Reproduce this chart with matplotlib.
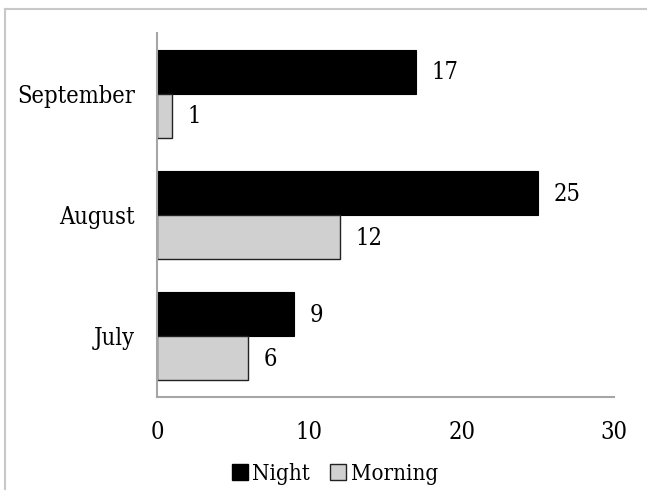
import matplotlib
matplotlib.use("Agg")
import matplotlib.pyplot as plt
from matplotlib.patches import Patch
from matplotlib.lines import Line2D
from matplotlib import font_manager
import numpy as np

months = ["July", "August", "September"]
night = [9, 25, 17]
morning = [6, 12, 1]
xticks = [0, 10, 20, 30]

names = {f.name for f in font_manager.fontManager.ttflist}
fam = 'DejaVu Serif Condensed' if 'DejaVu Serif Condensed' in names else 'DejaVu Serif'
plt.rcParams['font.family'] = [fam, 'DejaVu Serif']
if fam == 'DejaVu Serif':
    plt.rcParams['font.stretch'] = 'condensed'

W, H = 647, 490
fig = plt.figure(figsize=(W/100, H/100), dpi=100)
ax = fig.add_axes([157/W, 1-397/H, (614-157)/W, (397-33)/H])

y = np.arange(len(months))
h = 0.363
ax.barh(y + h/2, night, height=h, color="black", edgecolor="black", linewidth=0.8, label="Night")
ax.barh(y - h/2, morning, height=h, color="#d0d0d0", edgecolor="#222222", linewidth=1.0, label="Morning")

fs = 17
for i in range(len(months)):
    ax.text(night[i] + 1.0, y[i] + h/2 + 0.01, str(night[i]), va="center_baseline", ha="left", fontsize=fs)
    ax.text(morning[i] + 1.0, y[i] - h/2 + 0.01, str(morning[i]), va="center_baseline", ha="left", fontsize=fs)

ax.set_xlim(0, 30)
ax.set_ylim(-0.5, 2.5)
ax.set_yticks(y)
ax.set_yticklabels(months, fontsize=fs)
ax.set_xticks(xticks)
ax.set_xticklabels([str(t) for t in xticks], fontsize=fs)
ax.tick_params(axis="both", length=0)
ax.tick_params(axis="x", pad=17)
ax.tick_params(axis="y", pad=16)
for s in ["top", "right"]:
    ax.spines[s].set_visible(False)
for s in ["left", "bottom"]:
    ax.spines[s].set_color("#a6a6a6")
    ax.spines[s].set_linewidth(1.5)

# outer chart frame (cropped)
fig.add_artist(Line2D([5/W, 5/W], [0, 1-9/H], color="#c8c8c8", linewidth=1.5, transform=fig.transFigure))
fig.add_artist(Line2D([5/W, 1], [1-9/H, 1-9/H], color="#c8c8c8", linewidth=1.5, transform=fig.transFigure))

handles = [Patch(facecolor="black", edgecolor="black", label="Night"),
           Patch(facecolor="#d0d0d0", edgecolor="#222222", label="Morning")]
fig.legend(handles=handles, loc="center", bbox_to_anchor=(335/W, 1-474/H), ncol=2,
           frameon=False, fontsize=16, handlelength=0.72, handleheight=0.72,
           handletextpad=0.2, columnspacing=0.9)

fig.savefig("out.png", dpi=100)
